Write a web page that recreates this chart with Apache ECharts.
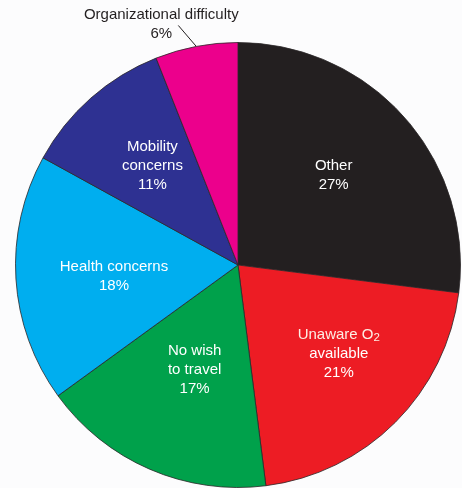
<!DOCTYPE html>
<html><head><meta charset="utf-8">
<script src="https://cdn.jsdelivr.net/npm/echarts@6/dist/echarts.min.js"></script>
<style>html,body{margin:0;padding:0;background:#fcfcfd}#c{width:462px;height:488px}</style>
</head><body><div id="c"></div>
<script>
const categories = ['Other', 'Unaware O2 available', 'No wish to travel', 'Health concerns', 'Mobility concerns', 'Organizational difficulty'];
const percentages = [27, 21, 17, 18, 11, 6];
const labelLines = ['Other', '{n|Unaware O}{sub|2}\navailable', 'No wish\nto travel', 'Health concerns', 'Mobility\nconcerns', 'Organizational difficulty'];
const sliceColors = ['#231f20', '#ed1c24', '#00a14b', '#00aeef', '#2e3192', '#ec008c'];
// label nudges (px) relative to the library's default inside position
const labelNudge = [[10, -14], [20, 8], [2, 0], [-10, 4], [-10, -13], null];

const chart = echarts.init(document.getElementById('c'), null, {renderer: 'canvas'});
const FONT = '"Liberation Sans", Arial, Helvetica, sans-serif';

const data = categories.map((name, i) => {
  const item = {name: name, value: percentages[i], itemStyle: {color: sliceColors[i]}};
  if (i === categories.length - 1) {
    item.label = {position: 'outside', color: '#231f20'};
    item.labelLine = {show: true, length: 10, length2: 5, lineStyle: {color: '#231f20', width: 1}};
  }
  return item;
});

chart.setOption({
  backgroundColor: '#fcfcfd',
  animation: false,
  series: [{
    type: 'pie',
    center: [238, 265],
    radius: 222.5,
    startAngle: 90,
    clockwise: true,
    avoidLabelOverlap: false,
    silent: true,
    data: data,
    itemStyle: {borderColor: '#2b2728', borderWidth: 0.8},
    label: {
      show: true,
      position: 'inside',
      color: '#ffffff',
      fontFamily: FONT,
      fontSize: 15,
      lineHeight: 19,
      formatter: p => labelLines[p.dataIndex] + '\n' + p.value + '%',
      rich: {
        n: {fontFamily: FONT, fontSize: 15, lineHeight: 19, color: '#fdeee4'},
        sub: {fontFamily: FONT, fontSize: 11.5, lineHeight: 9, verticalAlign: 'bottom', color: '#fdeee4'}
      }
    },
    labelLine: {show: false},
    labelLayout: function (params) {
      const i = params.dataIndex;
      const nudge = labelNudge[i];
      if (nudge) return {dx: nudge[0], dy: nudge[1]};
      const pts = params.labelLinePoints;
      if (pts && pts[0]) {
        const p0 = pts[0];
        const end = [p0[0] - 18, p0[1] - 21];
        return {
          x: p0[0] - 35, y: p0[1] - 22, align: 'center', verticalAlign: 'middle',
          labelLinePoints: [p0, end, end]
        };
      }
      return {};
    }
  }]
});
</script></body></html>
